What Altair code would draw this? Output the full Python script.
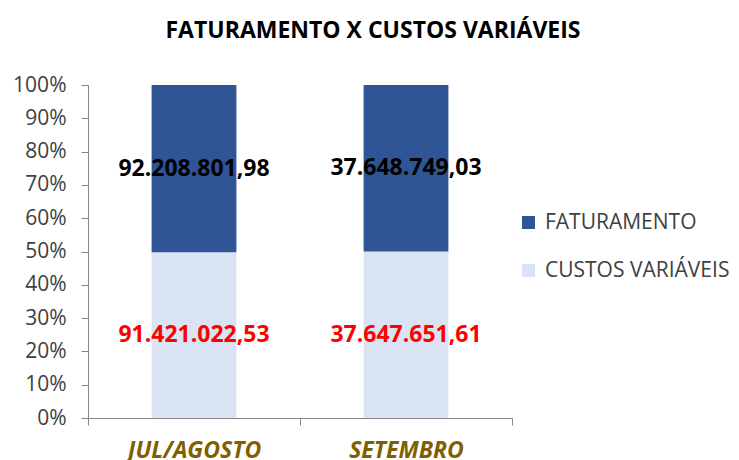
import altair as alt
import pandas as pd

months = ["JUL/AGOSTO", "SETEMBRO"]
series = ["FATURAMENTO", "CUSTOS VARIÁVEIS"]
faturamento = [92208801.98, 37648749.03]
custos = [91421022.53, 37647651.61]
ticks = [0, 0.1, 0.2, 0.3, 0.4, 0.5, 0.6, 0.7, 0.8, 0.9, 1.0]

def br(v):
    s = f"{v:,.2f}"
    return s.replace(",", "#").replace(".", ",").replace("#", ".")

rows = []
for i, m in enumerate(months):
    rows.append({"month": m, "series": "CUSTOS VARIÁVEIS", "value": custos[i], "ord": 0, "label": br(custos[i])})
    rows.append({"month": m, "series": "FATURAMENTO", "value": faturamento[i], "ord": 1, "label": br(faturamento[i])})
df = pd.DataFrame(rows)

FONT = "Open Sans"

base = alt.Chart(df).transform_stack(
    stack="value", groupby=["month"], as_=["y0", "y1"], offset="normalize",
    sort=[alt.SortField("ord", order="ascending")]
).transform_calculate(mid="(datum.y0 + datum.y1) / 2")

xscale = alt.Scale(paddingInner=0, paddingOuter=0)
xaxis = alt.Axis(labelAngle=0, labelFont=FONT, labelFontSize=23, labelFontWeight="bold",
                 labelFontStyle="italic", labelColor="#7F6000", domainColor="#868686",
                 tickColor="#868686", tickSize=7, tickBand="extent", labelPadding=14)
yscale = alt.Scale(domain=[0, 1], nice=False)
yaxis = alt.Axis(format="%", values=ticks, grid=False,
                 labelOverlap=False, labelFont=FONT, labelFontSize=21, labelColor="#404040",
                 domainColor="#868686", tickColor="#868686", tickSize=7, labelPadding=15)

bars = base.mark_bar(width=alt.RelativeBandSize(0.4)).encode(
    x=alt.X("month:N", sort=months, title=None, scale=xscale, axis=xaxis),
    y=alt.Y("y0:Q", title=None, scale=yscale, axis=yaxis),
    y2="y1:Q",
    color=alt.Color("series:N", scale=alt.Scale(domain=series, range=["#2F5597", "#DAE3F3"]),
                    legend=alt.Legend(title=None, orient="none", legendX=430, legendY=127,
                                      symbolType="square", symbolSize=170, symbolStrokeWidth=0,
                                      labelFont=FONT, labelFontSize=21, labelColor="#404040",
                                      labelLimit=400, rowPadding=26, labelOffset=6)),
)

texts = base.mark_text(font=FONT, fontSize=23, fontWeight="bold").encode(
    x=alt.X("month:N", sort=months, title=None, scale=xscale, axis=xaxis),
    y=alt.Y("mid:Q", title=None, scale=yscale, axis=yaxis),
    text="label:N",
    color=alt.condition(alt.datum.series == "FATURAMENTO", alt.value("#000000"), alt.value("#FF0000")),
)

chart = alt.layer(bars, texts).properties(
    width=424, height=333,
    title=alt.TitleParams("FATURAMENTO X CUSTOS VARIÁVEIS", font=FONT, fontSize=23, fontWeight="bold",
                          color="#000000", anchor="middle", dx=73, offset=31),
    padding={"left": 88, "top": 85, "right": 227, "bottom": 42},
    autosize=alt.AutoSizeParams(type="none"),
).configure_view(stroke=None)

chart.save("out.html", embed_options={"renderer": "svg", "actions": False})
